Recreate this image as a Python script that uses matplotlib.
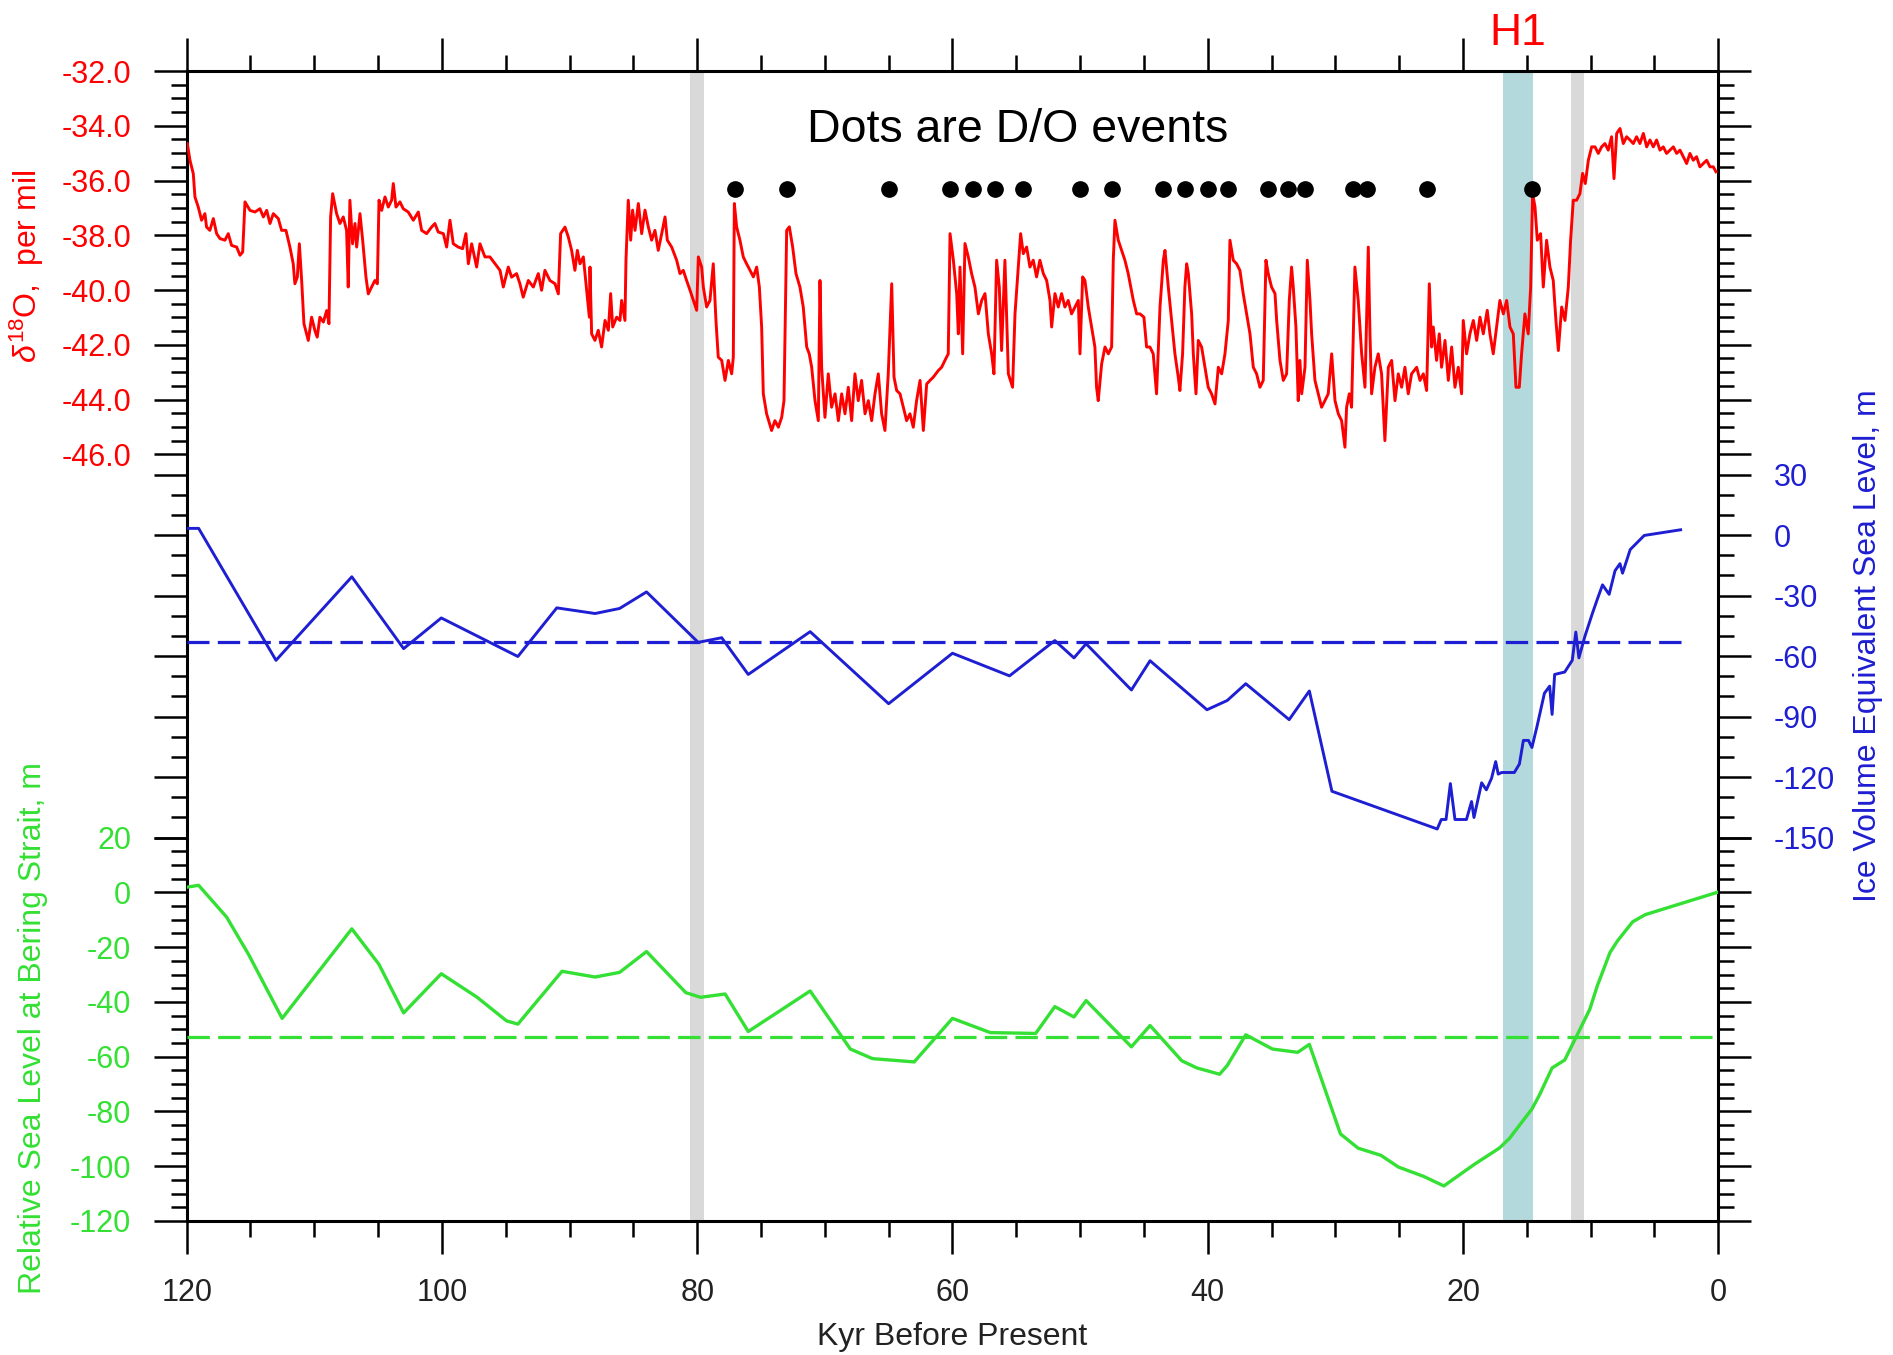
import numpy as np
import matplotlib
matplotlib.use("Agg")
import matplotlib.pyplot as plt
from matplotlib.ticker import FixedLocator, FormatStrFormatter

plt.rcParams["font.family"] = ["Liberation Sans", "DejaVu Sans"]
plt.rcParams["axes.unicode_minus"] = False
plt.rcParams["mathtext.fontset"] = "custom"
plt.rcParams["mathtext.rm"] = "Liberation Sans"
plt.rcParams["mathtext.it"] = "Liberation Sans:italic"

# --- Greenland d18O (kyr BP, per mil) ---
d18o_kyr = [
    119.95, 119.74, 119.48, 119.35, 119.09, 118.83, 118.57, 118.44, 118.18, 117.91,
    117.65, 117.39, 117.0, 116.74, 116.48, 116.08, 115.82, 115.61, 115.43, 115.04,
    114.65, 114.26, 113.99, 113.73, 113.47, 113.21, 112.82, 112.56, 112.22, 111.91,
    111.65, 111.52, 111.33, 111.17, 110.99, 110.81, 110.47, 110.21, 109.95, 109.77,
    109.56, 109.29, 109.03, 108.85, 108.72, 108.56, 108.25, 107.99, 107.73, 107.47,
    107.34, 107.21, 107.0, 106.81, 106.68, 106.42, 106.21, 105.95, 105.77, 105.51,
    105.25, 105.06, 104.93, 104.72, 104.46, 104.2, 103.94, 103.81, 103.6, 103.29,
    103.03, 102.64, 102.24, 101.85, 101.59, 101.2, 100.81, 100.55, 100.29, 99.89,
    99.63, 99.37, 99.11, 98.72, 98.38, 98.12, 97.93, 97.67, 97.28, 97.02,
    96.63, 96.24, 95.84, 95.45, 95.19, 94.8, 94.54, 94.15, 93.89, 93.63,
    93.23, 92.84, 92.45, 92.19, 91.93, 91.54, 91.14, 90.88, 90.7, 90.36,
    90.1, 89.84, 89.58, 89.39, 89.18, 88.92, 88.61, 88.45,
    88.4, 88.27, 88.01, 87.75, 87.49, 87.22, 86.96, 86.78, 86.62, 86.31,
    86.05, 85.92, 85.66, 85.58, 85.4, 85.21, 85.06, 84.87, 84.61, 84.35,
    84.09, 83.83, 83.57, 83.31, 83.05, 82.78, 82.52, 82.34, 82.0, 81.61,
    81.35, 81.09, 80.83, 80.56, 80.3, 80.04, 79.91, 79.65, 79.52, 79.26,
    79.0, 78.74, 78.53, 78.35, 78.08, 77.82, 77.56, 77.3, 77.17, 77.09,
    76.91, 76.65, 76.39, 76.13, 75.86, 75.6, 75.34, 75.13, 74.95, 74.82,
    74.56, 74.17, 73.91, 73.64, 73.38, 73.2, 72.99, 72.78, 72.52, 72.26,
    71.95, 71.69, 71.42, 71.22, 71.03, 70.77, 70.51, 70.38, 70.25, 69.99,
    69.73, 69.47, 69.2, 68.94, 68.68, 68.42, 68.16, 67.9, 67.64, 67.38,
    67.12, 66.85, 66.59, 66.33, 66.07, 65.81, 65.55, 65.29, 65.03, 64.76,
    64.58, 64.37, 64.11, 63.85, 63.59, 63.33, 63.07, 62.81, 62.54, 62.28,
    62.02, 61.76, 61.5, 61.11, 60.85, 60.59, 60.33, 60.19, 59.93, 59.67,
    59.54, 59.41, 59.2, 59.02, 58.76, 58.5, 58.24, 57.97, 57.71, 57.45,
    57.19, 56.93, 56.75, 56.54, 56.33, 56.15, 55.89, 55.62,
    55.29, 55.1, 54.84, 54.66, 54.45, 54.19, 53.93, 53.67, 53.41, 53.15,
    52.88, 52.62, 52.36, 52.23, 51.97, 51.71, 51.45, 51.19, 50.93, 50.67,
    50.4, 50.14, 50.01, 49.8, 49.62, 49.36, 49.1, 48.84, 48.71, 48.58,
    48.31, 48.05, 47.79, 47.53, 47.4, 47.27, 47.01, 46.75, 46.49, 46.23,
    45.83, 45.57, 45.31, 45.0, 44.79, 44.53, 44.27, 44.01, 43.74, 43.48,
    43.35, 43.09, 42.83, 42.57, 42.31, 42.18, 41.97, 41.79, 41.65, 41.52,
    41.26, 41.13, 40.92, 40.74, 40.48, 40.22, 39.96, 39.7, 39.43, 39.17,
    38.91, 38.65, 38.39, 38.26, 38.0, 37.74, 37.48, 37.22, 36.95, 36.69,
    36.43, 36.17, 35.91, 35.65, 35.44, 35.26, 35.0, 34.73, 34.6, 34.34,
    34.08, 33.82, 33.61, 33.43, 33.3, 33.09, 32.91, 32.78, 32.64, 32.38,
    32.2, 31.99, 31.86, 31.6, 31.34, 31.08, 30.82, 30.56, 30.29, 30.03,
    29.77, 29.51, 29.25, 29.12, 28.91, 28.73, 28.47, 28.21, 27.94, 27.68,
    27.42, 27.29, 27.16, 26.9, 26.64, 26.38, 26.12, 25.85, 25.59, 25.33,
    25.07, 24.81, 24.55, 24.29, 24.03, 23.63,
    23.37, 23.11, 22.85, 22.64, 22.46, 22.33, 22.07, 21.86, 21.68, 21.41,
    21.15, 20.89, 20.63, 20.37, 20.11, 19.98, 19.72, 19.46, 19.19, 18.93,
    18.67, 18.41, 18.1, 17.89, 17.63, 17.37, 17.11, 16.84, 16.58, 16.32,
    16.06, 15.85, 15.59, 15.41, 15.15, 14.89, 14.7, 14.55, 14.36, 14.18,
    13.92, 13.71, 13.45, 13.19, 12.93, 12.72, 12.53, 12.27, 12.01, 11.75,
    11.57, 11.36, 11.1, 10.84, 10.63, 10.42, 10.18, 9.92, 9.66, 9.4,
    9.14, 8.88, 8.62, 8.36, 8.17, 7.96, 7.7, 7.44, 7.18, 6.92,
    6.66, 6.4, 6.14, 5.87, 5.61, 5.35, 5.09, 4.83, 4.57, 4.31,
    4.05, 3.79, 3.52, 3.26, 3.0, 2.74, 2.48, 2.22, 1.96, 1.7,
    1.44, 1.18, 0.91, 0.65, 0.39, 0.18,
]
d18o_val = [
    -34.65, -35.26, -35.75, -36.6, -36.97, -37.45, -37.21, -37.70, -37.82, -37.39,
    -37.94, -38.12, -38.18, -37.94, -38.37, -38.43, -38.73, -38.61, -36.78, -37.09,
    -37.15, -37.03, -37.33, -37.09, -37.57, -37.21, -37.39, -37.82, -37.82, -38.43,
    -39.04, -39.77, -39.53, -38.31, -39.65, -41.23, -41.84, -40.99, -41.48, -41.72,
    -40.99, -41.17, -40.75, -41.23, -37.33, -36.48, -37.21, -37.57, -37.33, -37.82,
    -39.89, -36.72, -38.31, -37.57, -38.43, -37.21, -38.18, -39.53, -40.14, -39.89,
    -39.65, -39.77, -36.72, -37.09, -36.6, -36.97, -36.72, -36.11, -36.97, -36.78,
    -37.03, -37.15, -37.45, -37.15, -37.82, -37.94, -37.7, -37.57, -37.88, -37.94,
    -38.43, -37.45, -38.31, -38.43, -38.49, -37.94, -39.04, -38.31, -39.16, -38.31,
    -38.79, -38.79, -39.04, -39.28, -39.89, -39.16, -39.53, -39.4, -39.77, -40.26,
    -39.65, -39.89, -39.4, -40.01, -39.28, -39.65, -39.77, -40.14, -37.94, -37.7,
    -38.06, -38.55, -39.28, -38.55, -39.04, -38.79, -40.26, -40.99,
    -39.16, -41.6, -41.84, -41.47, -42.08, -41.11, -41.47, -40.13, -41.35, -40.99,
    -41.11, -40.38, -41.11, -38.91, -36.72, -38.18, -37.08, -37.82, -36.84, -37.94,
    -37.08, -37.69, -38.18, -37.82, -38.55, -37.94, -37.33, -38.18, -38.43, -38.91,
    -39.4, -39.28, -39.65, -40.01, -40.38, -40.74, -38.79, -39.16, -39.89, -40.62,
    -40.38, -39.04, -41.11, -42.45, -42.57, -43.3, -42.57, -43.06, -42.45, -36.84,
    -37.69, -38.18, -38.79, -39.04, -39.28, -39.52, -39.16, -39.89, -41.35, -43.79,
    -44.52, -45.13, -44.77, -45.01, -44.65, -44.04, -37.82, -37.69, -38.43, -39.4,
    -39.89, -40.62, -42.08, -42.33, -42.82, -44.04, -44.77, -39.65, -42.82, -44.65,
    -43.06, -44.28, -43.79, -44.77, -43.79, -44.52, -43.55, -44.77, -43.06, -44.04,
    -43.3, -44.52, -44.04, -44.77, -43.79, -43.06, -44.52, -45.13, -43.06, -39.77,
    -43.18, -43.67, -43.79, -44.28, -44.77, -44.52, -45.01, -44.04, -43.3, -45.13,
    -43.43, -43.3, -43.18, -42.94, -42.82, -42.57, -42.33, -37.94, -38.91, -40.13,
    -41.6, -39.16, -42.33, -38.3, -38.79, -39.4, -39.89, -40.87, -40.38, -40.13,
    -41.6, -42.33, -43.06, -38.91, -39.89, -42.21, -38.91, -43.06,
    -43.55, -40.87, -39.16, -37.94, -38.67, -38.43, -39.16, -38.91, -39.52, -38.91,
    -39.4, -39.65, -40.38, -41.35, -40.13, -40.62, -40.13, -40.62, -40.38, -40.87,
    -40.62, -40.38, -42.33, -39.52, -39.65, -40.62, -41.35, -42.08, -43.55, -44.04,
    -42.69, -42.08, -42.33, -42.08, -38.91, -37.45, -38.18, -38.55, -38.91, -39.4,
    -40.38, -40.87, -40.87, -40.99, -42.08, -42.08, -42.33, -43.79, -40.62, -38.91,
    -38.55, -39.89, -41.11, -42.33, -43.18, -43.67, -42.33, -39.89, -39.04, -39.4,
    -40.87, -42.33, -43.79, -41.84, -42.08, -42.82, -43.55, -43.79, -44.16, -42.82,
    -43.06, -42.33, -41.11, -38.18, -38.91, -39.04, -39.28, -40.13, -40.87, -41.6,
    -42.82, -43.06, -43.55, -43.3, -38.91, -39.4, -39.89, -40.13, -41.11, -42.57,
    -43.3, -43.06, -40.38, -39.16, -39.89, -41.35, -44.04, -42.57, -43.79, -42.82,
    -38.91, -40.38, -41.6, -43.3, -43.79, -44.28, -44.04, -43.79, -42.33, -44.04,
    -44.52, -44.77, -45.74, -44.28, -43.79, -44.28, -39.16, -40.38, -42.33, -43.55,
    -38.43, -41.6, -43.79, -42.82, -42.33, -43.06, -45.5, -42.82, -42.57, -44.04,
    -43.06, -43.55, -42.82, -43.79, -43.06, -42.82,
    -43.3, -43.06, -43.67, -39.77, -42.08, -41.35, -42.57, -41.6, -42.82, -41.84,
    -43.3, -42.08, -43.55, -42.82, -43.79, -41.11, -42.33, -41.6, -41.11, -41.84,
    -40.99, -41.6, -40.74, -41.6, -42.33, -41.35, -40.38, -40.87, -40.38, -41.35,
    -41.6, -43.55, -43.55, -42.33, -40.87, -41.6, -39.89, -36.48, -36.96, -38.18,
    -37.94, -39.89, -38.18, -39.16, -39.65, -41.11, -42.21, -40.62, -41.11, -39.89,
    -38.18, -36.72, -36.72, -36.48, -35.74, -36.11, -35.26, -34.77, -34.77, -35.01,
    -34.77, -34.65, -34.89, -34.4, -35.93, -34.28, -34.1, -34.65, -34.4, -34.52,
    -34.65, -34.4, -34.65, -34.28, -34.77, -34.52, -34.77, -34.52, -34.89, -34.77,
    -35.01, -34.89, -34.77, -35.01, -34.89, -35.13, -35.38, -35.01, -35.26, -35.13,
    -35.5, -35.38, -35.26, -35.5, -35.5, -35.68,
]

# D/O event onsets (kyr BP) drawn as dots at a fixed d18O level
do_events_kyr = [77.0, 73.0, 65.0, 60.2, 58.4, 56.7, 54.5, 50.0, 47.5, 43.5,
                 41.8, 40.0, 38.4, 35.3, 33.7, 32.4, 28.6, 27.5, 22.8, 14.6]
do_events_level = -36.3

# --- ice volume equivalent sea level (m) ---
ice_kyr = [120.0, 119.06, 113.0, 107.06, 103.0, 100.05, 94.05, 91.0, 88.0, 86.08,
           83.97, 79.92, 78.08, 76.0, 71.15, 65.0, 60.0, 55.53, 51.98, 50.48,
           49.53, 45.98, 44.52, 40.06, 38.47, 37.02, 33.62, 32.04, 30.27, 22.02,
           21.7, 21.33, 20.99, 20.63, 19.73, 19.33, 19.14, 18.54, 18.17, 17.76,
           17.44, 17.24, 16.97, 15.98, 15.58, 15.27, 14.87, 14.6, 14.2, 13.62,
           13.21, 13.02, 12.82, 12.03, 11.44, 11.16, 10.92, 10.46, 9.86, 9.47,
           9.07, 8.55, 8.09, 7.7, 7.5, 6.9, 5.8, 2.95]
ice_sl = [3.3, 3.3, -62.1, -20.7, -56.3, -41.1, -60.2, -36.1, -38.9, -36.4,
          -28.2, -53.2, -50.9, -69.1, -47.9, -83.6, -58.6, -69.8, -52.3, -60.9,
          -53.9, -76.8, -62.3, -86.6, -82.0, -73.7, -91.5, -77.3, -127.0, -145.7,
          -141.0, -141.0, -123.2, -141.0, -141.0, -132.1, -140.0, -122.8, -126.3, -120.5,
          -112.3, -118.5, -117.7, -117.7, -113.5, -101.8, -101.8, -105.3, -94.8, -78.4,
          -74.9, -88.9, -69.1, -67.9, -62.1, -48.1, -60.9, -50.4, -38.8, -31.7,
          -24.7, -29.4, -17.7, -14.2, -18.9, -7.2, -0.2, 2.6]
ice_sl_mean = -53.0

# --- relative sea level at Bering Strait (m) ---
bering_kyr = [120.0, 119.06, 116.87, 115.13, 112.52, 107.06, 104.94, 103.0, 100.05, 97.24,
              94.94, 94.05, 90.59, 88.0, 86.08, 83.97, 80.89, 79.74, 77.81, 76.0,
              71.15, 68.0, 66.27, 63.0, 60.0, 57.03, 53.48, 51.98, 50.48, 49.53,
              45.98, 44.52, 42.03, 40.85, 39.07, 38.47, 37.02, 34.93, 32.95, 32.04,
              29.6, 28.22, 26.44, 25.06, 23.09, 21.5, 19.14, 17.16, 16.37, 15.39,
              14.6, 14.0, 13.02, 12.03, 11.05, 10.06, 9.47, 8.48, 7.88, 6.7,
              5.71, 0.1]
bering_rsl = [1.9, 2.6, -9.0, -22.8, -46.0, -13.3, -26.2, -44.0, -29.7, -38.3,
              -46.9, -48.1, -28.8, -30.9, -29.2, -21.6, -36.6, -38.3, -37.1, -50.8,
              -36.0, -57.2, -60.7, -61.9, -46.0, -51.2, -51.5, -41.7, -45.5, -39.5,
              -56.4, -48.6, -61.5, -64.1, -66.4, -63.2, -52.0, -57.2, -58.4, -55.5,
              -88.2, -93.4, -96.0, -100.3, -103.7, -107.2, -99.4, -93.4, -89.9, -83.9,
              -79.1, -73.9, -64.1, -61.2, -52.0, -42.6, -34.0, -21.9, -17.6, -10.7,
              -8.1, 0.0]
bering_rsl_mean = -52.9

# shaded intervals (kyr BP)
gray_bands = [(80.6, 79.5), (11.5, 10.5)]
h1_band = (16.9, 14.5)

RED = "#ff0000"
BLUE = "#1e1ed2"
GREEN = "#33e033"
TICK_FS = 22
LABEL_FS = 23

fig = plt.figure(figsize=(18.93, 13.55), dpi=100)
rect = [0.0986, 0.0989, 0.8091, 0.8487]
ax = fig.add_axes(rect)
ax_b = ax.twinx()
ax_g = fig.add_axes(rect, sharex=ax)
ax_g.patch.set_visible(False)
for s in list(ax_b.spines.values()) + list(ax_g.spines.values()):
    s.set_visible(False)
for s in ax.spines.values():
    s.set_linewidth(2.2)

ax.set_xlim(120, 0)
ax.set_ylim(-74, -32)
ax_b.set_ylim(-340, 230)
ax_g.set_ylim(-120, 300)

# bands
for lo, hi in gray_bands:
    ax.axvspan(lo, hi, color="#d9d9d9", lw=0, zorder=0)
ax.axvspan(h1_band[0], h1_band[1], color="#b3d9dc", lw=0, zorder=0)

# d18O + D/O dots
ax.plot(d18o_kyr, d18o_val, color=RED, lw=2.1, zorder=3)
ax.plot(do_events_kyr, [do_events_level] * len(do_events_kyr), "o",
        color="black", ms=11, ls="none", zorder=4)

# ice volume sea level
ax_b.plot(ice_kyr, ice_sl, color=BLUE, lw=2.1)
ax_b.hlines(ice_sl_mean, min(ice_kyr), max(ice_kyr), colors=BLUE,
            linestyles=(0, (7, 2.6)), lw=2.3)

# Bering Strait RSL
ax_g.plot(bering_kyr, bering_rsl, color=GREEN, lw=2.4)
ax_g.axhline(bering_rsl_mean, color=GREEN, ls=(0, (7, 2.6)), lw=2.3)

# x axis
ax.xaxis.set_major_locator(FixedLocator(np.arange(0, 121, 20)))
ax.xaxis.set_minor_locator(FixedLocator(np.arange(0, 121, 5)))
ax.tick_params(axis="x", which="both", direction="out", top=True, bottom=True,
               width=1.8, labelsize=TICK_FS, pad=17, labelcolor="#222222")
ax.tick_params(axis="x", which="major", length=23.8)
ax.tick_params(axis="x", which="minor", length=11.5)
ax_g.tick_params(axis="x", which="both", bottom=False, top=False,
                 labelbottom=False, labeltop=False)
ax_b.tick_params(axis="x", which="both", bottom=False, top=False)


def style_y(a, major, minor, color, fmt, side):
    a.yaxis.set_major_locator(FixedLocator(major))
    a.yaxis.set_minor_locator(FixedLocator(minor))
    a.yaxis.set_major_formatter(FormatStrFormatter(fmt))
    a.tick_params(axis="y", which="both", direction="out", left=True, right=True,
                  width=1.8, color="black", labelcolor=color, labelsize=TICK_FS,
                  pad=16, labelleft=(side == "left"), labelright=(side == "right"))
    a.tick_params(axis="y", which="major", length=23.8)
    a.tick_params(axis="y", which="minor", length=11.5)


style_y(ax, np.arange(-46, -31, 2), np.arange(-46, -31.9, 0.5), RED, "%.1f", "left")
style_y(ax_b, np.arange(-150, 31, 30), np.arange(-150, 31, 10), BLUE, "%d", "right")
style_y(ax_g, np.arange(-120, 21, 20), np.arange(-120, 21, 5), GREEN, "%d", "left")

# texts
ax.text(54.9, -34.58, "Dots are D/O events", ha="center", va="baseline",
        fontsize=33.5, color="black")
ax.text(15.7, -31.05, "H1", ha="center", va="baseline", fontsize=32,
        color=RED, clip_on=False)

fig.text(0.0143, 0.8037, r"$\delta^{18}$O,  per mil", rotation=90,
         ha="center", va="center", fontsize=LABEL_FS, color=RED)
fig.text(0.0174, 0.2413, "Relative Sea Level at Bering Strait, m", rotation=90,
         ha="center", va="center", fontsize=LABEL_FS, color=GREEN)
fig.text(0.9868, 0.5232, "Ice Volume Equivalent Sea Level, m", rotation=90,
         ha="center", va="center", fontsize=LABEL_FS, color=BLUE)
fig.text(0.5032, 0.0135, "Kyr Before Present", ha="center", va="center",
         fontsize=LABEL_FS, color="#222222")

fig.savefig("out.png", dpi=100)
